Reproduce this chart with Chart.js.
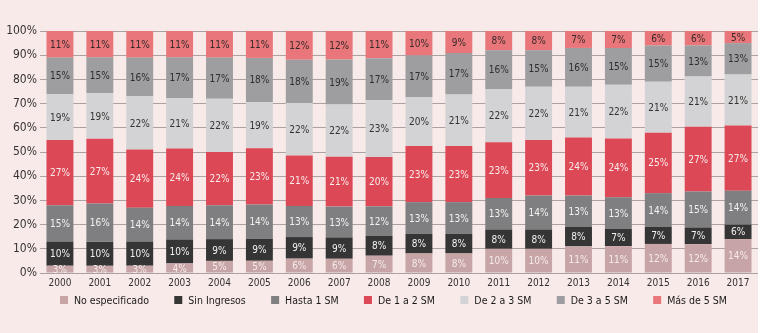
<!DOCTYPE html>
<html lang="es">
<head>
<meta charset="UTF-8">
<title>Distribución por nivel de ingreso</title>
<script src="https://cdn.jsdelivr.net/npm/chart.js@4"></script>
<style>
    body {
        margin: 0;
        padding: 0;
        background-color: #ffffff;
    }
    #wrap {
        width: 758px;
        height: 333px;
        background-color: #f8eae8;
    }
</style>
</head>
<body>
<div id="wrap"><canvas id="chart" width="758" height="333"></canvas></div>
<script>
// years on the x axis
const years = ["2000","2001","2002","2003","2004","2005","2006","2007","2008",
               "2009","2010","2011","2012","2013","2014","2015","2016","2017"];

// shares (%) as printed on the bars, bottom to top
const noEspecificado = [3,3,3,4,5,5,6,6,7,8,8,10,10,11,11,12,12,14];
const sinIngresos    = [10,10,10,10,9,9,9,9,8,8,8,8,8,8,7,7,7,6];
const hasta1SM       = [15,16,14,14,14,14,13,13,12,13,13,13,14,13,13,14,15,14];
const de1a2SM        = [27,27,24,24,22,23,21,21,20,23,23,23,23,24,24,25,27,27];
const de2a3SM        = [19,19,22,21,22,19,22,22,23,20,21,22,22,21,22,21,21,21];
const de3a5SM        = [15,15,16,17,17,18,18,19,17,17,17,16,15,16,15,15,13,13];
const masDe5SM       = [11,11,11,11,11,11,12,12,11,10,9,8,8,7,7,6,6,5];

const yTicks = [0,10,20,30,40,50,60,70,80,90,100];

const series = [
    { label: "No especificado", values: noEspecificado, color: "#c7a5a7", text: "#f6eaea" },
    { label: "Sin Ingresos",    values: sinIngresos,    color: "#353536", text: "#f2f2f2" },
    { label: "Hasta 1 SM",      values: hasta1SM,       color: "#7f7f81", text: "#f2f2f2" },
    { label: "De 1 a 2 SM",     values: de1a2SM,        color: "#dc4856", text: "#fbeaea" },
    { label: "De 2 a 3 SM",     values: de2a3SM,        color: "#d3d3d5", text: "#333333" },
    { label: "De 3 a 5 SM",     values: de3a5SM,        color: "#9e9ea1", text: "#2e2e2e" },
    { label: "Más de 5 SM",     values: masDe5SM,       color: "#e8767a", text: "#3a2a2a" }
];

// each bar is drawn as 100%, printed values don't always add up exactly
const totals = years.map((y, i) => series.reduce((s, d) => s + d.values[i], 0));

const FONT = "'DejaVu Sans Condensed', sans-serif";

// % label in the middle of each segment
const segmentLabels = {
    id: "segmentLabels",
    afterDatasetsDraw(chart) {
        const ctx = chart.ctx;
        ctx.save();
        ctx.font = "10px " + FONT;
        ctx.textAlign = "center";
        ctx.textBaseline = "middle";
        chart.data.datasets.forEach((ds, di) => {
            chart.getDatasetMeta(di).data.forEach((bar, i) => {
                ctx.fillStyle = series[di].text;
                ctx.fillText(series[di].values[i] + "%", bar.x, (bar.y + bar.base) / 2 + 1);
            });
        });
        ctx.restore();
    }
};

// legend row under the axis, spread from x=60 to x=727
const bottomLegend = {
    id: "bottomLegend",
    afterDraw(chart) {
        const ctx = chart.ctx;
        const left = 60, right = 727, y = 300, box = 8, gapText = 6;
        ctx.save();
        ctx.font = "10.5px " + FONT;
        ctx.textBaseline = "middle";
        const widths = series.map(s => box + gapText + ctx.measureText(s.label).width);
        const gap = (right - left - widths.reduce((a, b) => a + b, 0)) / (series.length - 1);
        let x = left;
        series.forEach((s, i) => {
            ctx.fillStyle = s.color;
            ctx.fillRect(x, y - box / 2, box, box);
            ctx.fillStyle = "#1a1a1a";
            ctx.fillText(s.label, x + box + gapText, y + 1);
            x += widths[i] + gap;
        });
        ctx.restore();
    }
};

new Chart(document.getElementById("chart"), {
    type: "bar",
    data: {
        labels: years,
        datasets: series.map(s => ({
            label: s.label,
            data: s.values.map((v, i) => v / totals[i] * 100),
            backgroundColor: s.color,
            borderWidth: 0,
            categoryPercentage: 1,
            barPercentage: 0.675
        }))
    },
    options: {
        responsive: false,
        animation: false,
        layout: { padding: { top: 31, right: 0, bottom: 38, left: 0 } },
        plugins: {
            tooltip: { enabled: false },
            legend: { display: false }
        },
        scales: {
            x: {
                stacked: true,
                grid: { display: false },
                border: { display: false },
                ticks: {
                    color: "#333333",
                    padding: -4,
                    maxRotation: 0,
                    font: { family: FONT, size: 10 }
                },
                afterFit: s => { s.height = 22; }
            },
            y: {
                stacked: true,
                min: 0,
                max: 100,
                afterBuildTicks: s => { s.ticks = yTicks.map(v => ({ value: v })); },
                grid: { color: "#aaa2a2", lineWidth: 1, drawTicks: false },
                border: { display: false },
                ticks: {
                    color: "#333333",
                    padding: 3,
                    font: { family: FONT, size: 12 },
                    callback: v => v + "%"
                },
                afterFit: s => { s.width = 40; }
            }
        }
    },
    plugins: [segmentLabels, bottomLegend]
});
</script>
</body>
</html>
